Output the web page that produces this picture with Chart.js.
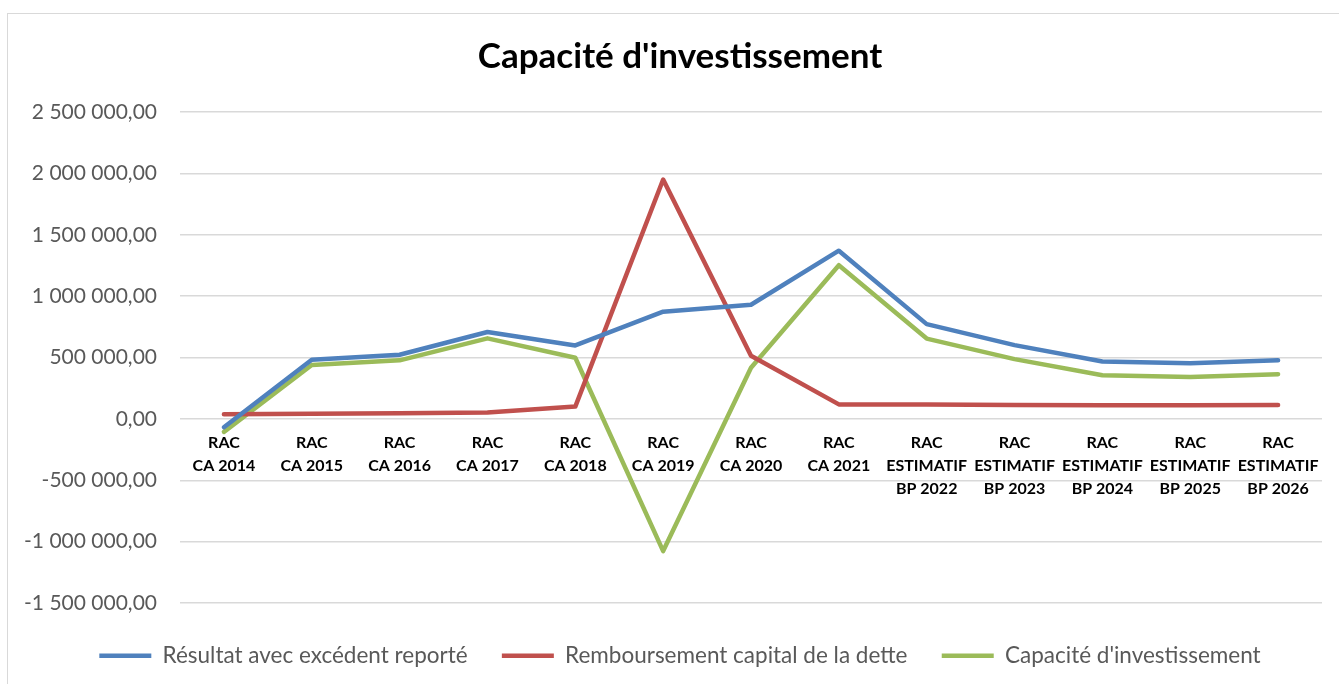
<!DOCTYPE html>
<html lang="fr">
<head>
<meta charset="utf-8">
<title>Capacité d'investissement</title>
<script src="https://cdn.jsdelivr.net/npm/chart.js@4/dist/chart.umd.min.js"></script>
<style>
  html, body { margin: 0; padding: 0; background: #fff; overflow: hidden; }
  #wrap { position: relative; width: 1339px; height: 684px; overflow: hidden; }
  #frame {
    position: absolute; left: 7px; top: 13px; width: 1346px; height: 700px;
    border: 1.5px solid #d9d9d9; box-sizing: border-box; pointer-events: none;
  }
  canvas { position: absolute; left: 0; top: 0; }
</style>
</head>
<body>
<div id="wrap">
  <div id="frame"></div>
  <canvas id="chart" width="1360" height="684"></canvas>
</div>
<script>
// Catégories (libellés sur plusieurs lignes)
const labels = [
  ['RAC', 'CA 2014'], ['RAC', 'CA 2015'], ['RAC', 'CA 2016'], ['RAC', 'CA 2017'],
  ['RAC', 'CA 2018'], ['RAC', 'CA 2019'], ['RAC', 'CA 2020'], ['RAC', 'CA 2021'],
  ['RAC', 'ESTIMATIF', 'BP 2022'], ['RAC', 'ESTIMATIF', 'BP 2023'],
  ['RAC', 'ESTIMATIF', 'BP 2024'], ['RAC', 'ESTIMATIF', 'BP 2025'],
  ['RAC', 'ESTIMATIF', 'BP 2026']
];

const resultat = [-68000, 481000, 522000, 708000, 598000, 873000, 930000, 1370000, 772000, 601000, 467000, 454000, 478000];
const remboursement = [38000, 42000, 45000, 52000, 100000, 1950000, 514000, 118000, 118000, 114000, 112000, 112000, 114000];
const capacite = [-106000, 439000, 477000, 656000, 498000, -1077000, 416000, 1252000, 654000, 487000, 355000, 342000, 364000];

// Axe des valeurs
const yMin = -1500000;
const yMax = 2500000;
const yStep = 500000;

const FONT = 'Lato, "Open Sans", sans-serif';

// 2 500 000,00
const fmt = v => (v < 0 ? '-' : '') +
  Math.abs(v).toFixed(2).replace('.', ',').replace(/\B(?=(\d{3})+(?!\d))/g, ' ');

const line = (label, data, color) => ({
  label,
  data,
  borderColor: color,
  backgroundColor: color,
  borderWidth: 4.5,
  borderCapStyle: 'round',
  borderJoinStyle: 'round',
  pointRadius: 0,
  pointHoverRadius: 0,
  tension: 0,
  fill: false
});

new Chart(document.getElementById('chart'), {
  type: 'line',
  data: {
    labels,
    datasets: [
      line('Résultat avec excédent reporté', resultat, '#4f81bd'),
      line('Remboursement capital de la dette', remboursement, '#c0504d'),
      line("Capacité d'investissement", capacite, '#9bbb59')
    ]
  },
  options: {
    responsive: false,
    animation: false,
    layout: { padding: { bottom: 7 } },
    plugins: {
      title: {
        display: true,
        text: "Capacité d'investissement",
        color: '#000',
        font: { family: FONT, size: 35, weight: 'bold' },
        padding: { top: 36, bottom: 34 }
      },
      legend: {
        position: 'bottom',
        labels: {
          usePointStyle: true,
          pointStyle: 'line',
          pointStyleWidth: 52,
          color: '#595959',
          font: { family: FONT, size: 22.5 },
          padding: 17,
          // un peu plus d'air entre les entrées
          generateLabels: chart => {
            const items = Chart.defaults.plugins.legend.labels.generateLabels(chart);
            items.forEach((it, i) => {
              if (i < items.length - 1) it.text += '   ';
            });
            return items;
          }
        }
      },
      tooltip: { enabled: false }
    },
    scales: {
      x: {
        type: 'category',
        offset: true,
        position: { y: 0 },
        grid: { display: false, drawTicks: false, offset: true },
        border: { display: false },
        ticks: {
          autoSkip: false,
          maxRotation: 0,
          padding: 12,
          color: '#000',
          font: { family: FONT, size: 16, weight: 'bold', lineHeight: 1.45 }
        }
      },
      // espace réservé sous la zone de tracé
      xb: {
        type: 'category',
        position: 'bottom',
        offset: true,
        grid: { display: false, drawTicks: false },
        border: { display: false },
        ticks: { display: false },
        afterFit: s => { s.height = 24.5; }
      },
      y: {
        min: yMin,
        max: yMax,
        position: 'left',
        border: { display: false },
        grid: { color: '#d9d9d9', lineWidth: 1.5, drawTicks: false },
        ticks: {
          stepSize: yStep,
          padding: 23,
          color: '#595959',
          font: { family: FONT, size: 21 },
          callback: v => fmt(v)
        },
        afterFit: s => { s.width = 180; }
      },
      yr: {
        type: 'linear',
        position: 'right',
        grid: { display: false, drawTicks: false },
        border: { display: false },
        ticks: { display: false },
        afterFit: s => { s.width = 38; }
      }
    }
  }
});
</script>
</body>
</html>
